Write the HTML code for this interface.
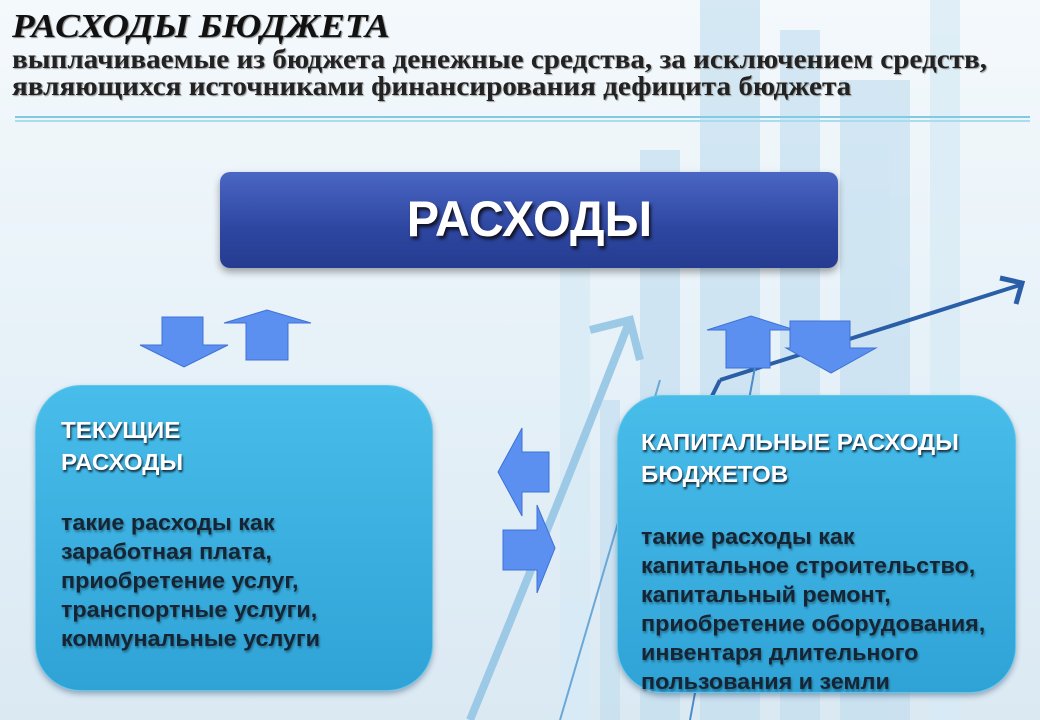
<!DOCTYPE html>
<html><head><meta charset="utf-8"><style>
body{margin:0}
#p{position:relative;width:1040px;height:720px;overflow:hidden;background:linear-gradient(180deg,#f4f9fc 0%,#e6f1f8 50%,#dbe9f3 100%);font-family:"Liberation Sans",sans-serif}
.t{position:absolute;white-space:nowrap}
.box{position:absolute;border-radius:46px;background:linear-gradient(180deg,#48bdea,#2fa3d6);box-shadow:0 3px 6px rgba(0,40,80,.35);border:1px solid #5fc6ee}
.h{color:#fff;font-weight:bold;font-size:23px;text-shadow:1px 2px 2px #123;transform:scaleX(1.05);transform-origin:left}
.b{color:#152535;font-weight:bold;font-size:22px;text-shadow:1px 2px 2px rgba(0,0,0,.35);transform:scaleX(1.06);transform-origin:left}
</style></head><body><div id="p">
<svg width="1040" height="720" style="position:absolute;left:0;top:0">
<g fill="#bfdcef" opacity=".6">
<rect x="700" y="0" width="60" height="720"/>
<rect x="780" y="30" width="40" height="690"/>
<rect x="840" y="80" width="70" height="640"/>
<rect x="640" y="150" width="40" height="570"/>
<rect x="600" y="400" width="20" height="320"/>
</g>
<g fill="#d6e9f5" opacity=".7">
<rect x="930" y="0" width="30" height="720"/>
<rect x="560" y="250" width="30" height="470"/>
</g>
<path d="M470 720 Q560 500 630 320" stroke="#9cc9e6" stroke-width="8" fill="none"/>
<path d="M590 330 L630 320 L640 360" stroke="#9cc9e6" stroke-width="8" fill="none"/>
<path d="M700 420 L720 380 M720 380 L1020 285" stroke="#2a5fa8" stroke-width="4" fill="none"/>
<path d="M1000 278 L1022 283 L1016 304" stroke="#2a5fa8" stroke-width="5" fill="none"/>
<path d="M690 720 L760 340" stroke="#4a8ccc" stroke-width="2" fill="none"/>
<path d="M560 720 L660 380" stroke="#6aa8d8" stroke-width="2" fill="none"/>
<line x1="15" y1="117" x2="1030" y2="117" stroke="#7fcbe4" stroke-width="2"/>
<line x1="15" y1="121" x2="1030" y2="121" stroke="#a9dcee" stroke-width="2"/>
<g fill="#5b8ff0" stroke="#3e72d6" stroke-width="1">
<polygon points="162,317 203,317 203,345 228,345 184,367 140,345 162,345"/>
<polygon points="246,360 288,360 288,323 311,323 267,310 224,323 246,323"/>
<polygon points="726,368 770,368 770,330 795,330 751,316 707,330 726,330"/>
<polygon points="790,321 850,321 850,348 876,348 831,373 786,348 790,348"/>
<polygon points="549,452 549,492 522,492 522,516 498,472 522,428 522,452"/>
<polygon points="503,530 537,530 537,505 555,548 537,593 537,570 503,570"/>
</g>
</svg>
<div class="t" style="left:12px;top:8px;font-family:'Liberation Serif',serif;font-weight:bold;font-style:italic;font-size:34px;color:#111;text-shadow:1px 1px 1px #888;transform:scaleX(1.09);transform-origin:left">РАСХОДЫ БЮДЖЕТА</div>
<div class="t" style="left:12px;top:46px;font-family:'Liberation Serif',serif;font-weight:bold;font-size:27px;line-height:27px;color:#222;text-shadow:1px 1px 1px #999;transform:scaleX(1.08);transform-origin:left">выплачиваемые из бюджета денежные средства, за исключением средств,<br>являющихся источниками финансирования дефицита бюджета</div>
<div style="position:absolute;left:220px;top:172px;width:618px;height:96px;border-radius:10px;background:linear-gradient(180deg,#4a67c4,#2d46a0 60%,#253c90);box-shadow:0 4px 8px rgba(0,0,0,.35)"></div>
<div class="t" style="left:220px;width:618px;top:190px;text-align:center;color:#fff;font-weight:bold;font-size:50px;text-shadow:2px 3px 3px #112"><span style="display:inline-block;transform:scaleX(.97)">РАСХОДЫ</span></div>
<div class="box" style="left:35px;top:385px;width:396px;height:304px"></div>
<div class="box" style="left:617px;top:395px;width:397px;height:296px"></div>
<div class="t h" style="left:61px;top:414px;line-height:32px">ТЕКУЩИЕ<br>РАСХОДЫ</div>
<div class="t b" style="left:61px;top:508px;line-height:29px">такие расходы как<br>заработная плата,<br>приобретение услуг,<br>транспортные услуги,<br>коммунальные услуги</div>
<div class="t h" style="left:641px;top:426px;line-height:32px">КАПИТАЛЬНЫЕ РАСХОДЫ<br>БЮДЖЕТОВ</div>
<div class="t b" style="left:641px;top:522px;line-height:29px">такие расходы как<br>капитальное строительство,<br>капитальный ремонт,<br>приобретение оборудования,<br>инвентаря длительного<br>пользования и земли</div>
</div></body></html>
